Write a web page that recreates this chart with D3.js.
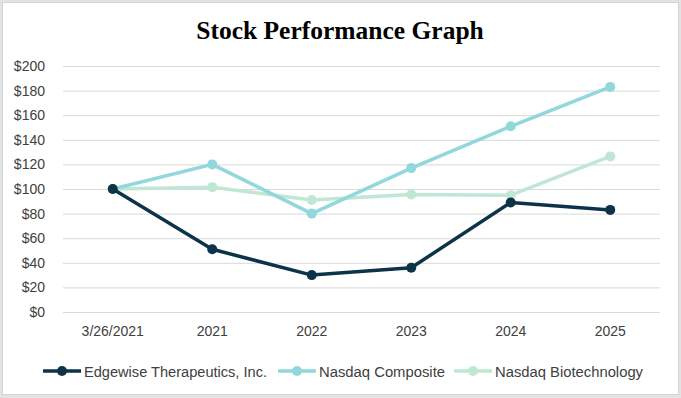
<!DOCTYPE html>
<html>
<head>
<meta charset="utf-8">
<script src="https://cdn.jsdelivr.net/npm/d3@7"></script>
<style>
  body { margin: 0; background: #e3e3e3; }
  svg { display: block; }
</style>
</head>
<body>
<div id="chart"></div>
<script>
// data
var categories = ["3/26/2021", "2021", "2022", "2023", "2024", "2025"];
var edgewise = [100, 51, 30, 36, 89, 83];
var nasdaqComposite = [100, 120, 80, 117, 151, 183];
var nasdaqBiotech = [100, 101.5, 91, 95.5, 95, 126.5];
var seriesNames = ["Edgewise Therapeutics, Inc.", "Nasdaq Composite", "Nasdaq Biotechnology"];
var seriesColors = ["#0d3349", "#92d7db", "#bfe7d4"];
var yTicks = [0, 20, 40, 60, 80, 100, 120, 140, 160, 180, 200];

var w = 681, h = 398;
var plotLeft = 63, plotRight = 660, plotTop = 66, plotBottom = 312;

var svg = d3.select("#chart")
            .append("svg")
            .attr("width", w)
            .attr("height", h);

// chart area frame
svg.append("rect")
   .attr("x", 2.5).attr("y", 2.5)
   .attr("width", w - 5).attr("height", h - 6)
   .attr("fill", "#fff")
   .attr("stroke", "#d4d4d4");

svg.append("text")
   .attr("x", 340).attr("y", 39)
   .attr("text-anchor", "middle")
   .attr("font-family", "'Liberation Serif', 'Times New Roman', serif")
   .attr("font-weight", "bold")
   .attr("font-size", 25.5)
   .attr("fill", "#000")
   .text("Stock Performance Graph");

var xScale = d3.scaleBand()
               .domain(categories)
               .range([plotLeft, plotRight]);

var yScale = d3.scaleLinear()
               .domain([0, 200])
               .range([plotBottom, plotTop]);

// gridlines + y labels
var yAxis = d3.axisLeft(yScale)
              .tickValues(yTicks)
              .tickSize(-(plotRight - plotLeft))
              .tickPadding(18)
              .tickFormat(function(d) { return "$" + d; });

var gy = svg.append("g")
            .attr("transform", "translate(" + plotLeft + ",0)")
            .call(yAxis);
gy.select(".domain").remove();
gy.selectAll(".tick line").attr("stroke", "#d9d9d9").attr("stroke-width", 1);
gy.selectAll(".tick text")
  .attr("font-family", "'Liberation Sans', Arial, sans-serif")
  .attr("font-size", 14)
  .attr("fill", "#404040");

var xAxis = d3.axisBottom(xScale)
              .tickSize(0)
              .tickPadding(14);

var gx = svg.append("g")
            .attr("transform", "translate(0," + plotBottom + ")")
            .call(xAxis);
gx.select(".domain").remove();
gx.selectAll(".tick text")
  .attr("font-family", "'Liberation Sans', Arial, sans-serif")
  .attr("font-size", 14)
  .attr("fill", "#404040");

var allSeries = [nasdaqBiotech, nasdaqComposite, edgewise];
var allColors = [seriesColors[2], seriesColors[1], seriesColors[0]];

var line = d3.line()
             .x(function(d, i) { return xScale(categories[i]) + xScale.bandwidth() / 2; })
             .y(function(d) { return yScale(d); });

allSeries.forEach(function(values, k) {
  var g = svg.append("g");
  g.append("path")
   .datum(values)
   .attr("d", line)
   .attr("fill", "none")
   .attr("stroke", allColors[k])
   .attr("stroke-width", 3.5)
   .attr("stroke-linejoin", "round");
  g.selectAll("circle")
   .data(values)
   .enter()
   .append("circle")
   .attr("cx", function(d, i) { return xScale(categories[i]) + xScale.bandwidth() / 2; })
   .attr("cy", function(d) { return yScale(d); })
   .attr("r", 5)
   .attr("fill", allColors[k]);
});

// legend (narrow font squeezed with textLength since no condensed face is installed)
var legendX = [43, 278, 454];
var legendTextW = [183, 126, 148];
var legend = svg.append("g").attr("transform", "translate(0,371)");
seriesNames.forEach(function(name, i) {
  var x0 = legendX[i];
  legend.append("line")
        .attr("x1", x0).attr("x2", x0 + 38)
        .attr("y1", 0).attr("y2", 0)
        .attr("stroke", seriesColors[i])
        .attr("stroke-width", 3.5);
  legend.append("circle")
        .attr("cx", x0 + 19).attr("cy", 0)
        .attr("r", 5)
        .attr("fill", seriesColors[i]);
  legend.append("text")
        .attr("x", x0 + 41).attr("y", 5.5)
        .attr("font-family", "'Liberation Sans', Arial, sans-serif")
        .attr("font-size", 15.5)
        .attr("textLength", legendTextW[i])
        .attr("lengthAdjust", "spacingAndGlyphs")
        .attr("fill", "#404040")
        .text(name);
});
</script>
</body>
</html>
